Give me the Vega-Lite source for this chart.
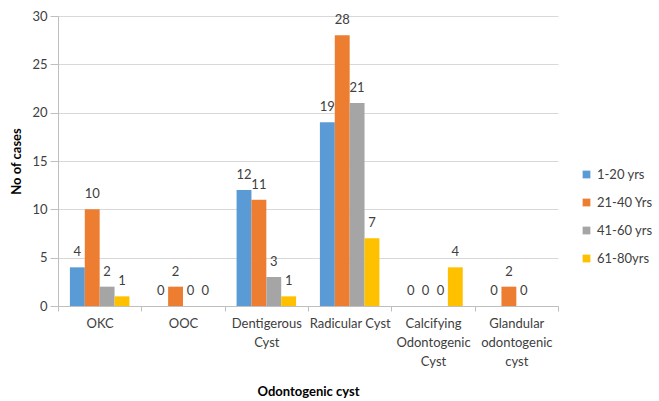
{
  "$schema": "https://vega.github.io/schema/vega-lite/v6.json",
  "width": 500,
  "height": 290,
  "autosize": {"type": "none"},
  "padding": {"left": 58, "top": 16, "right": 101, "bottom": 95},
  "background": "white",
  "config": {
    "font": "Lato",
    "view": {"stroke": null}
  },
  "data": {
    "values": [
      {"cyst": "OKC", "age": "1-20 yrs", "cases": 4},
      {"cyst": "OKC", "age": "21-40 Yrs", "cases": 10},
      {"cyst": "OKC", "age": "41-60 yrs", "cases": 2},
      {"cyst": "OKC", "age": "61-80yrs", "cases": 1},
      {"cyst": "OOC", "age": "1-20 yrs", "cases": 0},
      {"cyst": "OOC", "age": "21-40 Yrs", "cases": 2},
      {"cyst": "OOC", "age": "41-60 yrs", "cases": 0},
      {"cyst": "OOC", "age": "61-80yrs", "cases": 0},
      {"cyst": "Dentigerous Cyst", "age": "1-20 yrs", "cases": 12},
      {"cyst": "Dentigerous Cyst", "age": "21-40 Yrs", "cases": 11},
      {"cyst": "Dentigerous Cyst", "age": "41-60 yrs", "cases": 3},
      {"cyst": "Dentigerous Cyst", "age": "61-80yrs", "cases": 1},
      {"cyst": "Radicular Cyst", "age": "1-20 yrs", "cases": 19},
      {"cyst": "Radicular Cyst", "age": "21-40 Yrs", "cases": 28},
      {"cyst": "Radicular Cyst", "age": "41-60 yrs", "cases": 21},
      {"cyst": "Radicular Cyst", "age": "61-80yrs", "cases": 7},
      {"cyst": "Calcifying Odontogenic Cyst", "age": "1-20 yrs", "cases": 0},
      {"cyst": "Calcifying Odontogenic Cyst", "age": "21-40 Yrs", "cases": 0},
      {"cyst": "Calcifying Odontogenic Cyst", "age": "41-60 yrs", "cases": 0},
      {"cyst": "Calcifying Odontogenic Cyst", "age": "61-80yrs", "cases": 4},
      {"cyst": "Glandular odontogenic cyst", "age": "1-20 yrs", "cases": 0},
      {"cyst": "Glandular odontogenic cyst", "age": "21-40 Yrs", "cases": 2},
      {"cyst": "Glandular odontogenic cyst", "age": "41-60 yrs", "cases": 0}
    ]
  },
  "encoding": {
    "x": {
      "field": "cyst",
      "type": "nominal",
      "sort": null,
      "scale": {"paddingInner": 0, "paddingOuter": 0},
      "axis": {
        "title": "Odontogenic cyst",
        "titleFontWeight": "bold",
        "titleFontSize": 13,
        "titleColor": "#000000",
        "titleY": 79,
        "labelAngle": 0,
        "labelFontSize": 13,
        "labelColor": "#404040",
        "labelLineHeight": 19,
        "labelPadding": 12,
        "labelBaseline": "middle",
        "labelExpr": "datum.value == 'Dentigerous Cyst' ? ['Dentigerous','Cyst'] : datum.value == 'Calcifying Odontogenic Cyst' ? ['Calcifying','Odontogenic','Cyst'] : datum.value == 'Glandular odontogenic cyst' ? ['Glandular','odontogenic','cyst'] : datum.value",
        "tickBand": "extent",
        "tickSize": 5,
        "tickColor": "#bfbfbf",
        "domainColor": "#bfbfbf"
      }
    },
    "xOffset": {
      "field": "age",
      "type": "nominal",
      "sort": ["1-20 yrs", "21-40 Yrs", "41-60 yrs", "61-80yrs"],
      "scale": {"paddingInner": 0, "paddingOuter": 0.8}
    },
    "y": {
      "field": "cases",
      "type": "quantitative",
      "scale": {"domain": [0, 30]},
      "axis": {
        "title": "No of cases",
        "titleFontWeight": "bold",
        "titleFontSize": 13,
        "titleColor": "#000000",
        "titlePadding": 8,
        "values": [0, 5, 10, 15, 20, 25, 30],
        "labelFontSize": 13,
        "labelColor": "#404040",
        "labelPadding": 3,
        "tickSize": 8,
        "tickColor": "#bfbfbf",
        "domainColor": "#bfbfbf",
        "gridColor": "#d9d9d9",
        "gridWidth": 1
      }
    }
  },
  "layer": [
    {
      "mark": {"type": "bar"},
      "encoding": {
        "color": {
          "field": "age",
          "type": "nominal",
          "sort": ["1-20 yrs", "21-40 Yrs", "41-60 yrs", "61-80yrs"],
          "scale": {
            "domain": ["1-20 yrs", "21-40 Yrs", "41-60 yrs", "61-80yrs"],
            "range": ["#5B9BD5", "#ED7D31", "#A5A5A5", "#FFC000"]
          },
          "legend": {
            "title": null,
            "orient": "none",
            "legendX": 522,
            "legendY": 152,
            "symbolType": "square",
            "symbolSize": 60,
            "symbolStrokeWidth": 0,
            "labelFontSize": 13,
            "labelColor": "#404040",
            "rowPadding": 14,
            "labelOffset": 4
          }
        }
      }
    },
    {
      "mark": {"type": "text", "baseline": "bottom", "dy": -8, "fontSize": 13, "color": "#404040"},
      "encoding": {
        "text": {"field": "cases", "type": "quantitative"}
      }
    }
  ]
}
